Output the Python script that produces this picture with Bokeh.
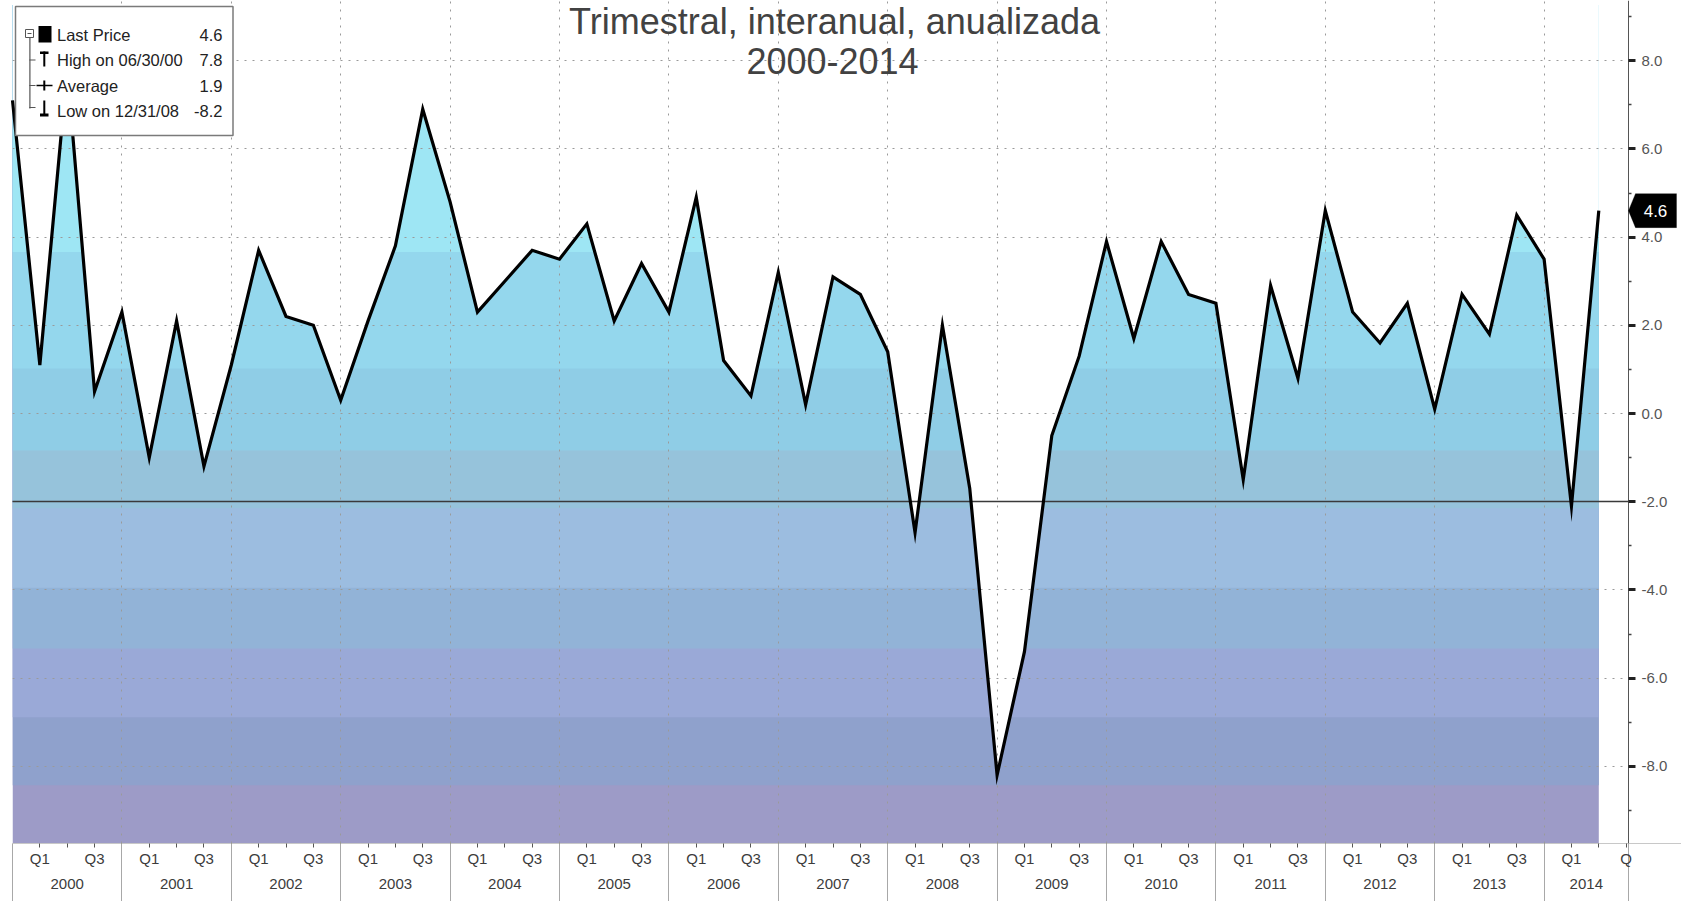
import numpy as np
from bokeh.plotting import figure
from bokeh.models import (Range1d, LinearAxis, FixedTicker, Grid, Label, BoxAnnotation,
                          PolyAnnotation, PrintfTickFormatter)
from bokeh.embed import file_html
from bokeh.resources import INLINE

# ---------------- data (annualised q/q real GDP growth, %) ----------------
years = [1999, 2000, 2001, 2002, 2003, 2004, 2005, 2006, 2007, 2008, 2009, 2010, 2011, 2012, 2013, 2014]
quarter_names = ["Q1", "Q2", "Q3", "Q4"]
quarter_end_dates = ["03/31", "06/30", "09/30", "12/31"]

gdp_growth = [
    7.1,                      # 1999 Q4 (line enters the chart)
    1.1, 7.8, 0.5, 2.3,       # 2000
    -1.0, 2.1, -1.2, 1.1,     # 2001
    3.7, 2.2, 2.0, 0.3,       # 2002
    2.1, 3.8, 6.9, 4.8,       # 2003
    2.3, 3.0, 3.7, 3.5,       # 2004
    4.3, 2.1, 3.4, 2.3,       # 2005
    4.9, 1.2, 0.4, 3.2,       # 2006
    0.2, 3.1, 2.7, 1.4,       # 2007
    -2.7, 2.0, -1.7, -8.2,    # 2008
    -5.4, -0.5, 1.3, 3.9,     # 2009
    1.7, 3.9, 2.7, 2.5,       # 2010
    -1.5, 2.9, 0.8, 4.6,      # 2011
    2.3, 1.6, 2.5, 0.1,       # 2012
    2.7, 1.8, 4.5, 3.5,       # 2013
    -2.1, 4.6,                # 2014
]
reference_level = -2.0

y_ticks = [-8, -6, -4, -2, 0, 2, 4, 6, 8]
y_minor_ticks = [-9, -7, -5, -3, -1, 1, 3, 5, 7, 9]

title_lines = ["Trimestral, interanual, anualizada", "2000-2014"]

# colour bands of the area fill (value where each band starts, colour)
band_starts = [-10.0, -8.43, -6.89, -5.33, -3.95, -2.15, -0.84, 1.02, 3.66]
band_colors = ["#9d9bc7", "#8fa1cc", "#9aa9d7", "#92b3d7", "#9cbde0", "#96c3db",
               "#8fcde6", "#94d7ed", "#9ee6f4"]

# ---------------- derived ----------------
periods = [(1999, 4)] + [(y, q) for y in years[1:] for q in (1, 2, 3, 4)]
periods = periods[:len(gdp_growth)]
x = np.arange(len(gdp_growth))
vals = np.array(gdp_growth)
shown = vals[1:]              # statistics over the 2000-2014 window
shown_periods = periods[1:]

def qdate(pq):
    y, q = pq
    return f"{quarter_end_dates[q - 1]}/{str(y)[2:]}"

i_hi = int(np.argmax(shown)); i_lo = int(np.argmin(shown))

# pixel helpers (reference page pixels -> data)
X0, DX = 12.0, 27.35
Y0, DY = 413.0, 44.1
def px2x(px): return (px - X0) / DX
def px2y(py): return (Y0 - py) / DY

W, H = 1681, 901
FL, FT, FB = 12, 0, 843
AXIS_PX = 1628                       # where the value axis sits
x_start, x_end = px2x(FL), px2x(W)
y_start, y_end = px2y(FB), px2y(FT)
x_axis_pos = px2x(AXIS_PX)

FONT = "Liberation Sans"

p = figure(width=W, height=H, output_backend="svg", toolbar_location=None,
           x_range=Range1d(x_start, x_end), y_range=Range1d(y_start, y_end),
           x_axis_location=None, y_axis_location="right",
           min_border_left=FL, min_border_right=0, min_border_top=FT,
           min_border_bottom=H - FB,
           outline_line_color=None, background_fill_color="white", border_fill_color="white")

# drop the default x grid (tied to a hidden axis)
p.center = [r for r in p.center if not (isinstance(r, Grid) and r.dimension == 0)]

# ---- area fill in colour bands, then white above the curve ----
band_top = y_end - 0.1
for b, c in zip(band_starts, band_colors):
    p.quad(left=x[0], right=x[-1], bottom=b, top=band_top, fill_color=c, line_color=None,
           level="underlay")
p.varea(x=x, y1=vals, y2=y_end + 1, fill_color="white", level="underlay")

# ---- grids ----
year_bounds = [int(i) for i in x if i % 4 == 0]
xgrid = Grid(dimension=0, ticker=FixedTicker(ticks=year_bounds), grid_line_color="#9a9a9a",
             grid_line_dash="2 6", grid_line_width=1, level="glyph")
p.add_layout(xgrid)

yax = p.yaxis[0]
yax.fixed_location = x_axis_pos
yax.ticker = FixedTicker(ticks=y_ticks, minor_ticks=y_minor_ticks)
yax.formatter = PrintfTickFormatter(format="%.1f")
p.ygrid[0].ticker = yax.ticker
p.ygrid[0].grid_line_color = "#9a9a9a"
p.ygrid[0].grid_line_dash = "2 6"
p.ygrid[0].level = "glyph"

yax.axis_line_color = "#555555"
yax.major_tick_out = 7
yax.major_tick_in = 0
yax.major_tick_line_width = 3
yax.major_tick_line_color = "#222222"
yax.minor_tick_out = 3
yax.minor_tick_in = 0
yax.minor_tick_line_color = "#444444"
yax.minor_tick_line_width = 1.5
yax.major_label_standoff = 6
yax.major_label_text_font = FONT
yax.major_label_text_font_size = "15px"
yax.major_label_text_color = "#555555"

# ---- reference line and series ----
p.hspan(y=[reference_level], line_color="#3a3a3a", line_width=1.5, level="guide")
p.line(x, vals, line_color="black", line_width=3.2, line_join="miter", level="guide")
# keep the label column right of the value axis clear of grid/reference lines
p.quad(left=x_axis_pos, right=x_end + 1, bottom=y_start - 1, top=y_end + 1,
       fill_color="white", line_color=None, level="guide")

# ---- x axes: quarters (with long year separators), then years ----
q_ticks = list(range(1, int(np.floor(x_axis_pos)) + 1))
q_labels = {}
for t in q_ticks:
    r = t % 4
    q_labels[t] = quarter_names[0] if r == 1 else (quarter_names[2] if r == 3 else "")
if q_ticks[-1] % 4 == 3:
    q_labels[q_ticks[-1]] = "Q"

SEP = 60
qax = LinearAxis(ticker=FixedTicker(ticks=q_ticks, minor_ticks=year_bounds + [x_axis_pos]),
                 major_label_overrides=q_labels,
                 axis_line_color="#c8c8c8", major_tick_out=4, major_tick_in=0,
                 major_tick_line_color="#555555", minor_tick_out=SEP, minor_tick_in=0,
                 minor_tick_line_color="#a8a8a8", major_label_standoff=-SEP + 6,
                 major_label_text_font=FONT, major_label_text_font_size="15px",
                 major_label_text_color="#3c3c3c")
p.add_layout(qax, "below")

year_centers = [4 * k + 2 for k in range(len(years) - 2)] + [(4 * (len(years) - 2) + x_axis_pos) / 2]
year_labels = {c: str(y) for c, y in zip(year_centers, years[1:])}
yrax = LinearAxis(ticker=FixedTicker(ticks=year_centers), major_label_overrides=year_labels,
                  axis_line_color=None, major_tick_out=0, major_tick_in=0,
                  major_tick_line_color=None, minor_tick_line_color=None,
                  major_label_standoff=9, major_label_text_font=FONT,
                  major_label_text_font_size="15px", major_label_text_color="#3c3c3c")
p.add_layout(yrax, "below")

# ---- title (inside the plot area) ----
p.add_layout(Label(x=px2x(834), y=px2y(21), text=title_lines[0], text_align="center",
                   text_baseline="alphabetic", text_font=FONT,
                   text_font_size="36px", text_color="#424242"))
p.add_layout(Label(x=px2x(832), y=px2y(60), text=title_lines[1], text_align="center",
                   text_baseline="alphabetic", text_font=FONT,
                   text_font_size="36px", text_color="#424242"))

# ---- legend box ----
def box(l, r, t, b, fill, line=None, lw=1):
    return BoxAnnotation(left=px2x(l), right=px2x(r), top=px2y(t), bottom=px2y(b),
                         fill_color=fill, fill_alpha=1, line_color=line, line_width=lw,
                         line_alpha=1 if line else 0)

p.add_layout(box(15, 232.5, 6, 135, "white", "#7a7a7a", 1.5))
# tree lines
p.add_layout(box(28.8, 30, 37, 108, "#555555"))
for ry in (59.5, 85, 107):
    p.add_layout(box(28.8, 35, ry - 0.6, ry + 0.6, "#555555"))
p.add_layout(box(25, 33, 29, 37, "white", "#555555", 1))
p.add_layout(box(27, 31, 32.6, 33.6, "#555555"))
# icons
p.add_layout(box(38, 51, 25.5, 42, "black"))
p.add_layout(box(39.5, 48, 51, 53.5, "black"))
p.add_layout(box(42.8, 44.8, 51, 66, "black"))
p.add_layout(box(36, 52, 84.2, 85.8, "black"))
p.add_layout(box(42.8, 44.8, 80, 90, "black"))
p.add_layout(box(42.8, 44.8, 100, 114, "black"))
p.add_layout(box(39.5, 48, 113, 116, "black"))

legend_names = ["Last Price",
                f"High on {qdate(shown_periods[i_hi])}",
                "Average",
                f"Low on {qdate(shown_periods[i_lo])}"]
legend_values = [shown[-1], shown[i_hi], shown.mean(), shown[i_lo]]
row_y = [34.3, 59.5, 85, 110]
for name, v, ry in zip(legend_names, legend_values, row_y):
    p.add_layout(Label(x=px2x(56.5), y=px2y(ry), text=name, text_align="left",
                       text_baseline="middle", text_font=FONT, text_font_size="16.5px",
                       text_color="#222222"))
    p.add_layout(Label(x=px2x(222), y=px2y(ry), text=f"{v:.1f}", text_align="right",
                       text_baseline="middle", text_font=FONT, text_font_size="16.5px",
                       text_color="#222222"))

# ---- last value callout on the value axis ----
last = vals[-1]
half = 17 / DY
p.add_layout(PolyAnnotation(
    xs=[px2x(1628), px2x(1635), px2x(1676), px2x(1676), px2x(1635)],
    ys=[last, last + half, last + half, last - half, last - half],
    fill_color="black", fill_alpha=1, line_color="black", line_width=1))
p.add_layout(Label(x=px2x(1655), y=last, text=f"{last:.1f}", text_align="center",
                   text_baseline="middle", text_font=FONT, text_font_size="17px",
                   text_color="white"))

open("out.html", "w").write(file_html(p, INLINE, "PIB"))
